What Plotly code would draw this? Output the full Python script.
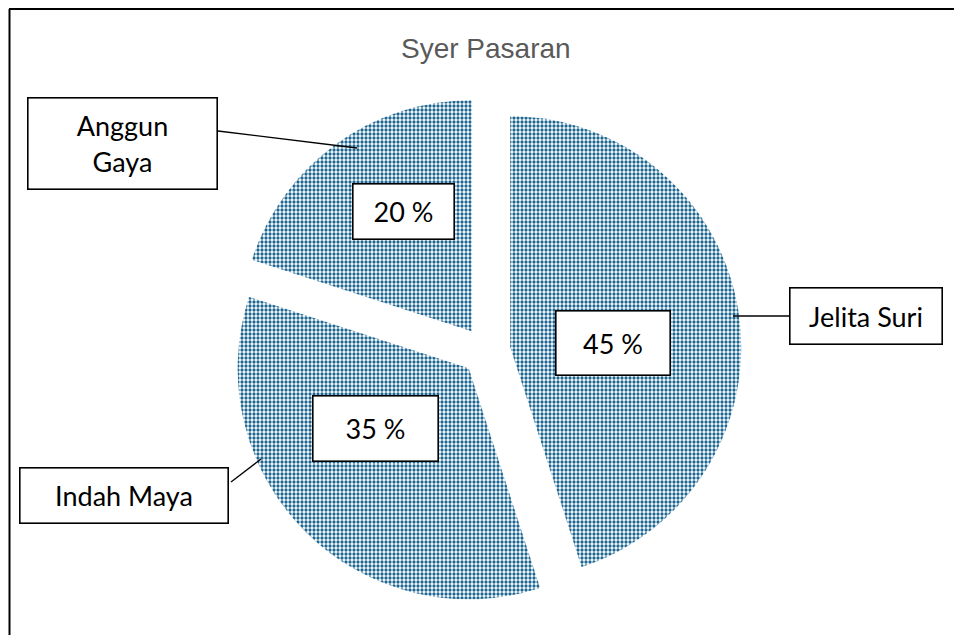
import plotly.graph_objects as go

# ---- data ----
categories = ["Jelita Suri", "Indah Maya", "Anggun Gaya"]
values = [45, 35, 20]
category_text = ["Jelita Suri", "Indah Maya", "Anggun<br>Gaya"]
title_text = "Syer Pasaran"

# ---- layout constants (pixels in a 954x635 canvas) ----
W, H = 954, 635
PIE_CX, PIE_CY, PIE_SIDE = 486, 351, 511
PULL = 0.106

# percent label boxes: centre x, centre y, width, height
pct_boxes = [(613, 343, 116, 66), (375, 428, 127, 67), (403, 211, 103, 57)]
# category label boxes: centre x, centre y, width, height
cat_boxes = [(866, 316, 154, 58), (124, 495.5, 210, 57), (122.5, 143.5, 191, 93)]
# leader lines: (x0, y0, x1, y1)
leaders = [(733, 316, 789, 316), (231, 482, 261, 459), (218, 131, 357, 148)]

FG = "#1d6691"
FONT = "Lato, 'Open Sans', sans-serif"


def px(x):
    return x / W


def py(y):
    return 1 - y / H


fig = go.Figure()
fig.add_trace(go.Pie(
    labels=categories,
    values=values,
    sort=False,
    direction="clockwise",
    rotation=0,
    pull=[PULL] * len(values),
    textinfo="none",
    hoverinfo="skip",
    showlegend=False,
    marker=dict(
        colors=["white"] * len(values),
        line=dict(width=0),
        pattern=dict(shape=".", fgcolor=FG, bgcolor="white", size=4,
                     solidity=0.53, fillmode="overlay", fgopacity=1),
    ),
    domain=dict(
        x=[px(PIE_CX - PIE_SIDE / 2), px(PIE_CX + PIE_SIDE / 2)],
        y=[py(PIE_CY + PIE_SIDE / 2), py(PIE_CY - PIE_SIDE / 2)],
    ),
))

annotations = []
bw = 1.6
for v, (cx, cy, w, h) in zip(values, pct_boxes):
    annotations.append(dict(
        text=f"{v} %", x=px(cx), y=py(cy), xref="paper", yref="paper",
        xanchor="center", yanchor="middle", showarrow=False,
        width=w - 2 * bw, height=h - 2 * bw, borderpad=0,
        bgcolor="white", bordercolor="black", borderwidth=bw,
        font=dict(family=FONT, size=27, color="black"),
    ))
for t, (cx, cy, w, h) in zip(category_text, cat_boxes):
    annotations.append(dict(
        text=t, x=px(cx), y=py(cy), xref="paper", yref="paper",
        xanchor="center", yanchor="middle", showarrow=False,
        width=w - 2 * bw, height=h - 2 * bw, borderpad=0,
        bgcolor="white", bordercolor="black", borderwidth=bw,
        font=dict(family=FONT, size=27, color="black"),
    ))
annotations.append(dict(
    text=title_text, x=px(485.5), y=py(48), xref="paper", yref="paper",
    xanchor="center", yanchor="middle", showarrow=False,
    font=dict(family="'Liberation Sans', Arial, sans-serif", size=28, color="#595959"),
))

shapes = []
for (x0, y0, x1, y1) in leaders:
    shapes.append(dict(type="line", xref="paper", yref="paper",
                       x0=px(x0), y0=py(y0), x1=px(x1), y1=py(y1),
                       line=dict(color="black", width=1.3)))
# outer frame (left and top edges visible)
shapes.append(dict(type="line", xref="paper", yref="paper",
                   x0=px(9.5), y0=py(9), x1=px(9.5), y1=py(H + 5),
                   line=dict(color="black", width=2)))
shapes.append(dict(type="line", xref="paper", yref="paper",
                   x0=px(9), y0=py(9), x1=px(W + 5), y1=py(9),
                   line=dict(color="black", width=2)))

fig.update_layout(
    width=W, height=H,
    margin=dict(l=0, r=0, t=0, b=0),
    paper_bgcolor="white", plot_bgcolor="white",
    annotations=annotations, shapes=shapes,
    showlegend=False,
)

fig.write_html("out.html", config={"displayModeBar": False},
               post_script="document.body.style.margin='0';document.body.style.overflow='hidden';")
